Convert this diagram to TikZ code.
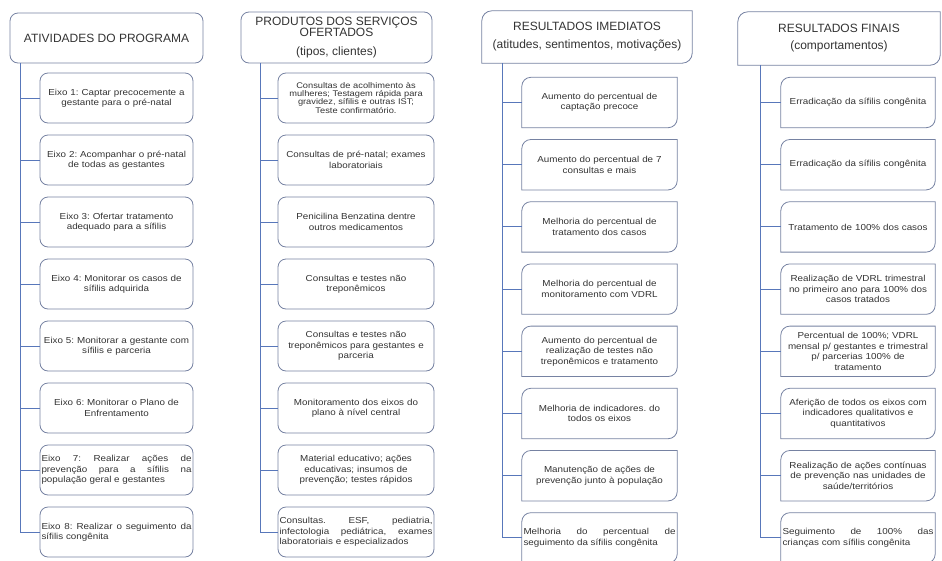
\documentclass[tikz,border=0pt]{standalone}
\usepackage{fontspec}
\setmainfont{Liberation Sans}
\newfontfamily\boxfont{Liberation Sans}[FakeStretch=1.13]
\usepackage{tikz}
\usetikzlibrary{positioning}
\definecolor{edgegray}{HTML}{7682A2}
\definecolor{linkblue}{HTML}{5877BA}
\definecolor{txtgray}{HTML}{333333}
\hyphenpenalty=10000
\exhyphenpenalty=10000
\frenchspacing

% frame with round top-left and bottom-right corners
\newcommand{\diagframe}[2][9pt]{%
  \draw[box] (#2.north east) -- ([xshift=#1]#2.north west) arc[start angle=90, end angle=180, radius=#1]
    -- (#2.south west) -- ([xshift=-#1]#2.south east) arc[start angle=270, end angle=360, radius=#1] -- cycle;}

\begin{document}
\begin{tikzpicture}[x=1pt, y=1pt,
    box/.style={draw=edgegray, line width=0.8pt},
    head/.style={font=\fontsize{12}{14}\selectfont, text=txtgray, align=center, inner sep=0pt},
    item/.style={font=\boxfont\fontsize{8.7}{10.5}\selectfont, text=txtgray, align=center, inner xsep=1.5pt, inner ysep=2pt, minimum height=50pt},
    link/.style={draw=linkblue, line width=1pt}]

    \useasboundingbox (0,0) rectangle (942,-560);

    % Headers
    \node[box, head, rounded corners=8pt, minimum width=193pt, minimum height=50pt] (act) at (106.5,-38) {ATIVIDADES DO PROGRAMA};
    \node[box, head, rounded corners=8pt, minimum width=191pt, minimum height=51pt] (prod) at (336.5,-37.5) {PRODUTOS DOS SERVIÇOS\\[-3pt]OFERTADOS\\[5pt](tipos, clientes)};
    \node[head, minimum width=210pt, minimum height=52pt] (imed) at (587,-37) {RESULTADOS IMEDIATOS\\[4pt](atitudes, sentimentos, motivações)};
    \node[head, minimum width=202pt, minimum height=53pt] (fin) at (839,-38.5) {RESULTADOS FINAIS\\[3pt](comportamentos)};
    \diagframe[10pt]{imed}
    \diagframe[10pt]{fin}

    % Atividades
    \node[item, box, rounded corners=8pt, text width=150pt] (act1) at (116.5,-98) {Eixo 1: Captar precocemente a\\gestante para o pré-natal};
    \node[item, box, rounded corners=8pt, text width=150pt] (act2) at (116.5,-160) {Eixo 2: Acompanhar o pré-natal\\de todas as gestantes};
    \node[item, box, rounded corners=8pt, text width=150pt] (act3) at (116.5,-222) {Eixo 3: Ofertar tratamento\\adequado para a sífilis};
    \node[item, box, rounded corners=8pt, text width=150pt] (act4) at (116.5,-284) {Eixo 4: Monitorar os casos de\\sífilis adquirida};
    \node[item, box, rounded corners=8pt, text width=150pt] (act5) at (116.5,-346) {Eixo 5: Monitorar a gestante com\\sífilis e parceria};
    \node[item, box, rounded corners=8pt, text width=150pt] (act6) at (116.5,-408) {Eixo 6: Monitorar o Plano de\\Enfrentamento};
    \node[item, box, rounded corners=8pt, text width=150pt, align=justify] (act7) at (116.5,-470) {Eixo 7: Realizar ações de prevenção para a sífilis na população geral e gestantes};
    \node[item, box, rounded corners=8pt, text width=150pt, align=justify] (act8) at (116.5,-532) {Eixo 8: Realizar o seguimento da sífilis congênita};

    % Produtos
    \node[item, box, rounded corners=8pt, text width=153pt, font=\boxfont\fontsize{8.2}{7.6}\selectfont] (prod1) at (356,-98) {Consultas de acolhimento às\\mulheres; Testagem rápida para\\gravidez, sífilis e outras IST;\\Teste confirmatório.};
    \node[item, box, rounded corners=8pt, text width=153pt] (prod2) at (356,-160) {Consultas de pré-natal; exames\\laboratoriais};
    \node[item, box, rounded corners=8pt, text width=153pt] (prod3) at (356,-222) {Penicilina Benzatina dentre\\outros medicamentos};
    \node[item, box, rounded corners=8pt, text width=153pt] (prod4) at (356,-284) {Consultas e testes não\\treponêmicos};
    \node[item, box, rounded corners=8pt, text width=153pt] (prod5) at (356,-346) {Consultas e testes não\\treponêmicos para gestantes e\\parceria};
    \node[item, box, rounded corners=8pt, text width=153pt] (prod6) at (356,-408) {Monitoramento dos eixos do\\plano à nível central};
    \node[item, box, rounded corners=8pt, text width=153pt] (prod7) at (356,-470) {Material educativo; ações\\educativas; insumos de\\prevenção; testes rápidos};
    \node[item, box, rounded corners=8pt, text width=153pt, align=justify] (prod8) at (356,-532) {Consultas. ESF, pediatria, infectologia pediátrica, exames laboratoriais e especializados};

    % Resultados imediatos
    \node[item, text width=152pt] (imed1) at (599.5,-102.5) {Aumento do percentual de\\captação precoce};
    \node[item, text width=152pt] (imed2) at (599.5,-164.7) {Aumento do percentual de 7\\consultas e mais};
    \node[item, text width=152pt] (imed3) at (599.5,-226.9) {Melhoria do percentual de\\tratamento dos casos};
    \node[item, text width=152pt] (imed4) at (599.5,-289.1) {Melhoria do percentual de\\monitoramento com VDRL};
    \node[item, text width=152pt] (imed5) at (599.5,-351.3) {Aumento do percentual de\\realização de testes não\\treponêmicos e tratamento};
    \node[item, text width=152pt] (imed6) at (599.5,-413.5) {Melhoria de indicadores. do\\todos os eixos};
    \node[item, text width=152pt] (imed7) at (599.5,-475.7) {Manutenção de ações de\\prevenção junto à população};
    \node[item, text width=152pt, align=justify] (imed8) at (599.5,-537.9) {Melhoria do percentual de seguimento da sífilis congênita};

    % Resultados finais
    \node[item, text width=151pt] (fin1) at (858,-102.5) {Erradicação da sífilis congênita};
    \node[item, text width=151pt] (fin2) at (858,-164.7) {Erradicação da sífilis congênita};
    \node[item, text width=151pt] (fin3) at (858,-226.9) {Tratamento de 100\% dos casos};
    \node[item, text width=151pt] (fin4) at (858,-289.1) {Realização de VDRL trimestral\\no primeiro ano para 100\% dos\\casos tratados};
    \node[item, text width=151pt] (fin5) at (858,-351.3) {Percentual de 100\%; VDRL\\mensal p/ gestantes e trimestral\\p/ parcerias 100\% de\\tratamento};
    \node[item, text width=151pt] (fin6) at (858,-413.5) {Aferição de todos os eixos com\\indicadores qualitativos e\\quantitativos};
    \node[item, text width=151pt] (fin7) at (858,-475.7) {Realização de ações contínuas\\de prevenção nas unidades de\\saúde/territórios};
    \node[item, text width=151pt, align=justify] (fin8) at (858,-537.9) {Seguimento de 100\% das\linebreak crianças com sífilis congênita};

    \foreach \k in {1,...,8} {
        \diagframe{imed\k}
        \diagframe{fin\k}
    }

    % Spines
    \coordinate (actsp) at (20,-63);
    \coordinate (prodsp) at (260,-63);
    \coordinate (imedsp) at (502,-63);
    \coordinate (finsp) at (760,-65);
    \foreach \k in {1,...,8} {
        \draw[link] (actsp) |- (act\k.west);
        \draw[link] (prodsp) |- (prod\k.west);
        \draw[link] (imedsp) |- (imed\k.west);
        \draw[link] (finsp) |- (fin\k.west);
    }
\end{tikzpicture}
\end{document}
